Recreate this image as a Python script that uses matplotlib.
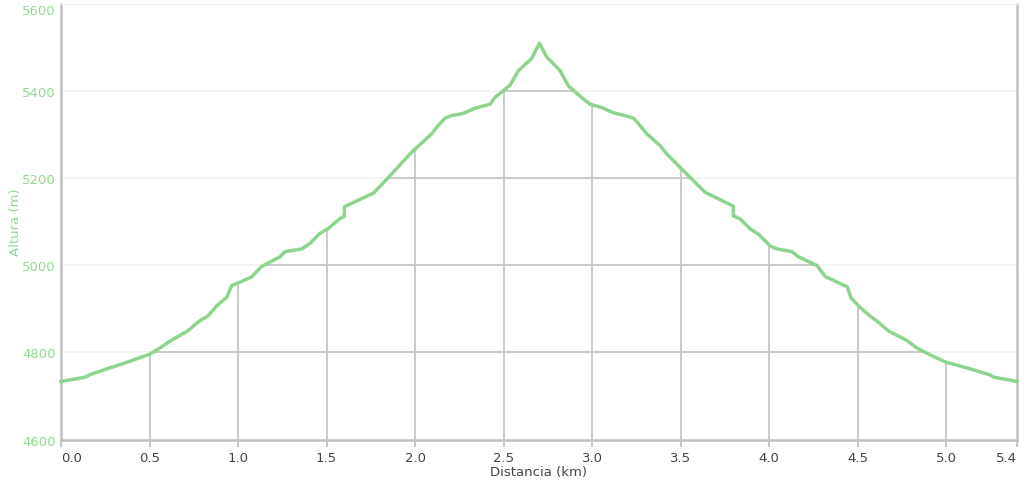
import matplotlib
matplotlib.use("Agg")
import matplotlib.pyplot as plt
from matplotlib.patches import Polygon

dist_km = [0.0, 0.136, 0.164, 0.371, 0.503, 0.559, 0.625, 0.719, 0.776, 0.832,
           0.880, 0.936, 0.964, 1.011, 1.077, 1.134, 1.237, 1.266, 1.360, 1.407,
           1.463, 1.510, 1.576, 1.601, 1.601, 1.765, 1.840, 1.972, 2.0, 2.094,
           2.122, 2.169, 2.207, 2.273, 2.339, 2.424, 2.452, 2.499, 2.537, 2.584,
           2.659, 2.702, 2.744, 2.819, 2.866, 2.913, 2.951, 2.989, 3.064, 3.121,
           3.177, 3.234, 3.271, 3.309, 3.384, 3.422, 3.497, 3.554, 3.638, 3.798,
           3.798, 3.836, 3.893, 3.940, 4.006, 4.044, 4.128, 4.166, 4.270, 4.316,
           4.442, 4.462, 4.514, 4.567, 4.617, 4.674, 4.778, 4.834, 4.900, 4.994,
           5.136, 5.249, 5.267, 5.40]
elev_m = [4733, 4743, 4749, 4777, 4796, 4810, 4828, 4850, 4870, 4884,
          4907, 4926, 4953, 4961, 4973, 4997, 5019, 5031, 5037, 5050,
          5073, 5084, 5107, 5112, 5134, 5165, 5197, 5255, 5266, 5301,
          5316, 5337, 5343, 5348, 5360, 5369, 5385, 5400, 5413, 5446,
          5474, 5509, 5477, 5446, 5411, 5394, 5381, 5369, 5360, 5349,
          5344, 5337, 5320, 5301, 5274, 5255, 5224, 5201, 5167, 5135,
          5113, 5106, 5083, 5071, 5044, 5037, 5031, 5019, 4999, 4974,
          4950, 4925, 4903, 4884, 4869, 4849, 4827, 4810, 4796, 4778,
          4762, 4748, 4743, 4733]

x_ticks = [0.0, 0.5, 1.0, 1.5, 2.0, 2.5, 3.0, 3.5, 4.0, 4.5, 5.0, 5.4]
x_tick_labels = ["0.0", "0.5", "1.0", "1.5", "2.0", "2.5", "3.0", "3.5", "4.0", "4.5", "5.0", "5.4"]
y_ticks = [4600, 4800, 5000, 5200, 5400, 5600]
y_tick_labels = ["4600", "4800", "5000", "5200", "5400", "5600"]

GREEN = "#8ed48e"
LABEL_GREEN = "#95d895"
GRID = "#c6c6c6"
FAINT = "#f1f1f1"
AXIS = "#c0c0c0"

W, H = 1024, 485
fig = plt.figure(figsize=(W / 100, H / 100), dpi=100)
ax = fig.add_axes([61 / W, 44.5 / H, (1017 - 61) / W, (440.5 - 4.5) / H])
ax.set_xlim(0, 5.4)
ax.set_ylim(4600, 5600)

# faint full-width horizontal grid
for yv in y_ticks[1:]:
    ax.axhline(yv, color=FAINT, lw=1.2, zorder=0)

# grid clipped to the area under the profile
verts = list(zip(dist_km, elev_m)) + [(dist_km[-1], 4600), (dist_km[0], 4600)]
clip = Polygon(verts, closed=True, facecolor="none", edgecolor="none", transform=ax.transData)
ax.add_patch(clip)
for xv in x_ticks[1:-1]:
    ln = ax.axvline(xv, color=GRID, lw=1.3, zorder=1)
    ln.set_clip_path(clip)
for yv in y_ticks[1:-1]:
    ln = ax.axhline(yv, color=GRID, lw=1.3, zorder=1)
    ln.set_clip_path(clip)

ax.plot(dist_km, elev_m, color=GREEN, lw=2.5, solid_joinstyle="round", zorder=3, clip_on=False)

for s in ["left", "bottom", "right"]:
    ax.spines[s].set_color(AXIS)
    ax.spines[s].set_linewidth(1.8)
ax.spines["top"].set_color(FAINT)
ax.spines["top"].set_linewidth(1.0)

ax.set_xticks(x_ticks)
ax.set_xticklabels(x_tick_labels)
ax.set_yticks(y_ticks)
ax.set_yticklabels(y_tick_labels)
ax.tick_params(axis="x", length=5, width=1.3, color=AXIS, labelsize=9.5, labelcolor="#444444", pad=3)
ax.tick_params(axis="y", length=0, labelsize=9.5, labelcolor=LABEL_GREEN, pad=4)

xl = ax.get_xticklabels()
xl[0].set_horizontalalignment("left")
xl[-1].set_horizontalalignment("right")
yl = ax.get_yticklabels()
yl[-1].set_verticalalignment("top")

fig.text(539 / W, 1 - 473 / H, "Distancia (km)", fontsize=9.5, color="#444444",
         ha="center", va="center")
fig.text(15 / W, 1 - 222 / H, "Altura (m)", fontsize=9.5, color=LABEL_GREEN,
         ha="center", va="center", rotation=90)

fig.savefig("out.png", dpi=100, facecolor="white")
